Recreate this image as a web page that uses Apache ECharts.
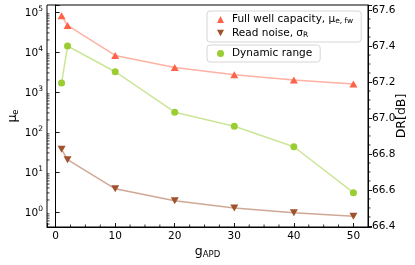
<!DOCTYPE html>
<html>
<head>
<meta charset="utf-8">
<script src="https://cdn.jsdelivr.net/npm/echarts@6/dist/echarts.min.js"></script>
<style>html,body{margin:0;padding:0;background:#fff;}#c{width:415px;height:265px;}</style>
</head>
<body>
<div id="c"></div>
<script>
// ---- data ----
const gains = [1, 2, 10, 20, 30, 40, 50];
const fullWell = [81000, 46000, 8200, 4100, 2700, 2000, 1580];
const readNoise = [37, 20.3, 3.8, 1.92, 1.26, 0.96, 0.78];
const dynRange = [67.194, 67.40, 67.257, 67.032, 66.954, 66.84, 66.585];
const xTickLabels = ['0', '10', '20', '30', '40', '50'];
const drTickLabels = ['66.4', '66.6', '66.8', '67.0', '67.2', '67.4', '67.6'];

// axis ranges
const XMIN = -1.45, XMAX = 52.45;
const LMIN = Math.pow(10, -0.375), LMAX = Math.pow(10, 5.175);
const RMIN = 66.394, RMAX = 67.628;

const FONT = 'DejaVu Sans';

// minor tick positions (decoration)
const xMinor = [];
for (let v = -2.5; v <= XMAX; v += 2.5) { if (v > XMIN && Math.abs(v % 10) > 1e-6) xMinor.push(v); }
const lMinor = [];
for (let e = -1; e <= 5; e++) { for (let m = 2; m <= 9; m++) { const v = m * Math.pow(10, e); if (v > LMIN && v < LMAX) lMinor.push(v); } }
const rMinor = [];
for (let k = 0; k < 40; k++) { const v = 66.35 + k * 0.05; if (v > RMIN && v < RMAX && Math.abs(v * 5 - Math.round(v * 5)) > 1e-6) rMinor.push(v); }

function tickSeries(name, data, yIdx, dx, dy) {
  return {
    type: 'custom', name: name, xAxisIndex: 0, yAxisIndex: yIdx, silent: true, clip: false, z: 10,
    data: data,
    renderItem: function (params, api) {
      const p = api.coord([api.value(0), api.value(1)]);
      return { type: 'line', shape: { x1: p[0], y1: p[1], x2: p[0] + dx, y2: p[1] + dy },
        style: { stroke: '#000', lineWidth: 0.8 } };
    }
  };
}

const chart = echarts.init(document.getElementById('c'), null, { renderer: 'canvas' });
const subRich = {
  a: { fontFamily: FONT, fontSize: 10.5, lineHeight: 12, color: '#000' },
  s: { fontFamily: FONT, fontSize: 7.5, lineHeight: 7, verticalAlign: 'bottom', color: '#000' }
};
chart.setOption({
  animation: false,
  grid: { left: 47, right: 47, top: 5, bottom: 38, containLabel: false, outerBoundsMode: 'none',
    show: true, borderColor: '#000', borderWidth: 1, backgroundColor: 'transparent' },
  legend: [
    {
      left: 207, top: 11, orient: 'vertical', itemWidth: 7, itemHeight: 7, itemGap: 2,
      padding: [3, 8, 3, 10], borderColor: '#d6d6d6', borderWidth: 1, borderRadius: 3,
      backgroundColor: 'rgba(255,255,255,0.85)',
      data: [
        { name: 'Full well capacity', icon: 'triangle' },
        { name: 'Read noise', icon: 'path://M0,0L10,0L5,9Z' }
      ],
      formatter: function (n) {
        return n === 'Full well capacity' ? '{a|Full well capacity, μ}{s|e, fw}' : '{a|Read noise, σ}{s|R}';
      },
      textStyle: { padding: [0, 0, 0, 3], rich: subRich }
    },
    {
      left: 207, top: 45, orient: 'vertical', itemWidth: 7, itemHeight: 7,
      padding: [3, 8, 3, 10], borderColor: '#d6d6d6', borderWidth: 1, borderRadius: 3,
      backgroundColor: 'rgba(255,255,255,0.85)',
      data: [{ name: 'Dynamic range', icon: 'circle' }],
      formatter: function (n) { return '{a|' + n + '}'; },
      textStyle: { padding: [0, 0, 0, 3], rich: subRich }
    }
  ],
  xAxis: {
    type: 'value', min: XMIN, max: XMAX,
    name: '{a|g}{s|APD}', nameLocation: 'middle', nameGap: 17, nameMoveOverlap: false,
    nameTextStyle: { rich: {
      a: { fontFamily: FONT, fontSize: 12.5, lineHeight: 15, color: '#000' },
      s: { fontFamily: FONT, fontSize: 8.5, lineHeight: 9, verticalAlign: 'bottom', color: '#000' } } },
    axisLine: { lineStyle: { color: '#000', width: 1 } },
    axisTick: { inside: true, length: 4, lineStyle: { color: '#000', width: 0.9 } },
    splitLine: { show: false },
    axisLabel: {
      margin: 4, fontFamily: FONT, fontSize: 10.5, color: '#000',
      formatter: function (v) {
        const i = xTickLabels.indexOf(String(Math.round(v)));
        return (Math.abs(v - Math.round(v)) < 1e-6 && i >= 0) ? xTickLabels[i] : '';
      }
    }
  },
  yAxis: [
    {
      type: 'log', logBase: 10, min: LMIN, max: LMAX, position: 'left',
      name: '{a|μ}{s|e}', nameLocation: 'middle', nameGap: 27, nameRotate: 90, nameMoveOverlap: false,
      nameTextStyle: { rich: {
        a: { fontFamily: FONT, fontSize: 12.5, lineHeight: 15, color: '#000' },
        s: { fontFamily: FONT, fontSize: 8.5, lineHeight: 9, verticalAlign: 'bottom', color: '#000' } } },
      axisLine: { show: true, lineStyle: { color: '#000', width: 1 } },
      axisTick: { inside: true, length: 4, lineStyle: { color: '#000', width: 0.9 } },
      splitLine: { show: false },
      axisLabel: {
        margin: 4, color: '#000',
        formatter: function (v) {
          const l = Math.log10(v);
          if (Math.abs(l - Math.round(l)) > 1e-6) return '';
          return '{b|10}{e|' + Math.round(l) + '}';
        },
        rich: {
          b: { fontFamily: FONT, fontSize: 10.5, lineHeight: 14, verticalAlign: 'bottom', color: '#000' },
          e: { fontFamily: FONT, fontSize: 7.5, lineHeight: 8, verticalAlign: 'top', color: '#000' }
        }
      }
    },
    {
      type: 'value', min: RMIN, max: RMAX, position: 'right',
      name: 'DR[dB]', nameLocation: 'middle', nameGap: 27, nameRotate: 90, nameMoveOverlap: false,
      nameTextStyle: { fontFamily: FONT, fontSize: 12.5, color: '#000' },
      axisLine: { show: true, lineStyle: { color: '#000', width: 1 } },
      axisTick: { inside: false, length: 4, lineStyle: { color: '#000', width: 0.9 } },
      splitLine: { show: false },
      axisLabel: {
        margin: 4, fontFamily: FONT, fontSize: 10.5, color: '#000',
        formatter: function (v) {
          const s = v.toFixed(1);
          return (Math.abs(v * 5 - Math.round(v * 5)) < 1e-6 && drTickLabels.indexOf(s) >= 0) ? s : '';
        }
      }
    }
  ],
  series: [
    {
      name: 'Full well capacity', type: 'line', xAxisIndex: 0, yAxisIndex: 0,
      data: gains.map((g, i) => [g, fullWell[i]]),
      symbol: 'triangle', symbolSize: [8, 7], color: '#ff6347',
      itemStyle: { color: '#ff6347' },
      lineStyle: { color: 'rgba(255,99,71,0.5)', width: 1.5 }, z: 3
    },
    {
      name: 'Read noise', type: 'line', xAxisIndex: 0, yAxisIndex: 0,
      data: gains.map((g, i) => [g, readNoise[i]]),
      symbol: 'triangle', symbolRotate: 180, symbolSize: [8, 7], color: '#a0522d',
      itemStyle: { color: '#a0522d' },
      lineStyle: { color: 'rgba(160,82,45,0.5)', width: 1.5 }, z: 3
    },
    {
      name: 'Dynamic range', type: 'line', xAxisIndex: 0, yAxisIndex: 1,
      data: gains.map((g, i) => [g, dynRange[i]]),
      symbol: 'circle', symbolSize: 7, color: '#9acd32',
      itemStyle: { color: '#9acd32' },
      lineStyle: { color: 'rgba(154,205,50,0.5)', width: 1.5 }, z: 3
    },
    tickSeries('xminor', xMinor.map(v => [v, LMIN]), 0, 0, -2.5),
    tickSeries('lminor', lMinor.map(v => [XMIN, v]), 0, 2.5, 0),
    tickSeries('rminor', rMinor.map(v => [XMAX, v]), 1, 2.5, 0)
  ]
});
</script>
</body>
</html>
